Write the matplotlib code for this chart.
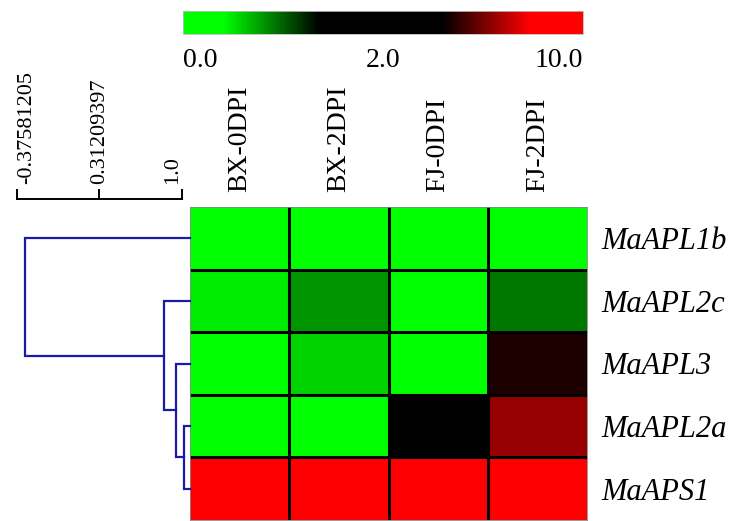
import matplotlib
matplotlib.use("Agg")
import matplotlib.pyplot as plt
import numpy as np
from matplotlib.colors import LinearSegmentedColormap, TwoSlopeNorm

plt.rcParams["font.family"] = ["Liberation Serif", "DejaVu Serif"]

samples = ["BX-0DPI", "BX-2DPI", "FJ-0DPI", "FJ-2DPI"]
genes = ["MaAPL1b", "MaAPL2c", "MaAPL3", "MaAPL2a", "MaAPS1"]
expr = np.array([
    [0.15, 0.20, 0.10, 0.30],
    [0.48, 0.81, 0.30, 0.91],
    [0.25, 0.57, 0.20, 4.75],
    [0.35, 0.30, 2.30, 6.47],
    [9.50, 9.20, 9.80, 9.00],
])
cbar_ticks = [0.0, 2.0, 10.0]

# tree (leaf ids 0-4, new nodes 5,6,7,8), heights on the similarity scale
merges = [(3, 4), (2, 5), (1, 6), (0, 7)]
merge_sim = [1.015, 0.95, 0.85, -0.31]
scale_ticks = [-0.37581205, 0.31209397, 1.0]
scale_labels = ["-0.37581205", "0.31209397", "1.0"]

W, H = 732, 521
fig = plt.figure(figsize=(W / 100, H / 100), dpi=100)


def box(x0, y0, x1, y1):
    return [x0 / W, 1 - y1 / H, (x1 - x0) / W, (y1 - y0) / H]


cmap = LinearSegmentedColormap.from_list("gbr", [
    (0.0, (0, 1, 0)), (0.10, (0, 1, 0)), (0.34, (0, 0, 0)),
    (0.65, (0, 0, 0)), (0.87, (1, 0, 0)), (1.0, (1, 0, 0))])
norm = TwoSlopeNorm(vmin=0, vcenter=2, vmax=10)

# heatmap
ax = fig.add_axes(box(190, 207, 587, 520))
mesh = ax.pcolormesh(expr, cmap=cmap, norm=norm)
ax.set_xlim(0, len(samples))
ax.set_ylim(len(genes), 0)
for i in range(1, len(genes)):
    ax.axhline(i, color="black", lw=2.2)
for j in range(1, len(samples)):
    ax.axvline(j, color="black", lw=2.2)
for s in ax.spines.values():
    s.set_color("#888888")
    s.set_linewidth(0.6)
ax.xaxis.tick_top()
ax.set_xticks(np.arange(len(samples)) + 0.5)
ax.set_xticklabels(samples, rotation=90, fontsize=20)
ax.yaxis.tick_right()
ax.set_yticks(np.arange(len(genes)) + 0.5)
ax.set_yticklabels(genes, fontsize=22, style="italic")
ax.tick_params(length=0)
ax.tick_params(axis="x", pad=11)
ax.tick_params(axis="y", pad=10)

# dendrogram
smin = scale_ticks[0]
px = (1.0 - smin) / (182 - 17)
ax_d = fig.add_axes(box(17, 207, 190, 520), sharey=ax)
xr = smin + px * (190 - 17)
ax_d.set_xlim(smin, xr)
ax_d.axis("off")
node_y = {i: i + 0.5 for i in range(len(genes))}
node_x = {i: xr for i in range(len(genes))}
blue = "#1a1aa8"
for k, ((a, b), h) in enumerate(zip(merges, merge_sim)):
    ya, yb = node_y[a], node_y[b]
    ax_d.plot([node_x[a], h, h, node_x[b]], [ya, ya, yb, yb], color=blue, lw=1.6,
              solid_joinstyle="miter", clip_on=False)
    nid = len(genes) + k
    node_y[nid] = (ya + yb) / 2
    node_x[nid] = h

# scale bar
ax_s = fig.add_axes(box(17, 188, 190, 199))
ax_s.set_xlim(smin, xr)
ax_s.set_ylim(0, 1)
ax_s.axis("off")
ax_s.plot([scale_ticks[0], scale_ticks[-1]], [0, 0], color="black", lw=1.4, clip_on=False)
for v in scale_ticks:
    ax_s.plot([v, v], [0, 0.85], color="black", lw=1.4, clip_on=False)
for v, lab, ha in zip(scale_ticks, scale_labels, ["left", "center", "right"]):
    ax_s.text(v, 1.4, lab, rotation=90, ha=ha, va="bottom", fontsize=16)

# colour key
ax_c = fig.add_axes(box(183, 11, 583, 34))
cb = fig.colorbar(mesh, cax=ax_c, orientation="horizontal", ticks=cbar_ticks)
cb.ax.set_xticklabels(["%.1f" % t for t in cbar_ticks], fontsize=20)
labs = cb.ax.get_xticklabels()
labs[0].set_ha("left")
labs[-1].set_ha("right")
cb.ax.tick_params(length=0, pad=10)
cb.outline.set_edgecolor("#bbbbbb")
cb.outline.set_linewidth(0.6)

fig.savefig("out.png", dpi=100)
